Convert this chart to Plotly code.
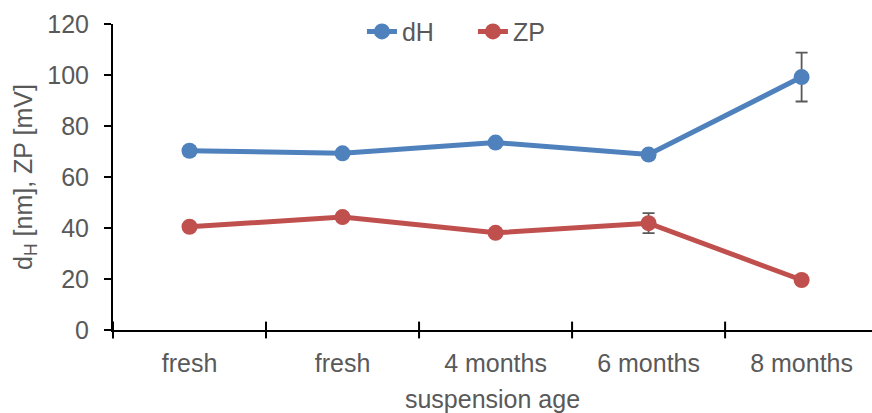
import plotly.graph_objects as go

categories = ["fresh", "fresh", "4 months", "6 months", "8 months"]
dH = [70.3, 69.3, 73.5, 68.8, 99.2]
dH_err = [1.8, 0.8, 1.0, 0.8, 9.6]
ZP = [40.5, 44.3, 38.1, 41.9, 19.6]
ZP_err = [0.8, 1.6, 0.6, 3.9, 0.6]
y_ticks = [0, 20, 40, 60, 80, 100, 120]

xpos = list(range(len(categories)))
grey = "#595959"

fig = go.Figure()
fig.add_trace(go.Scatter(
    x=xpos, y=dH, name="dH", mode="lines+markers",
    line=dict(color="#4F81BD", width=5),
    marker=dict(color="#4F81BD", size=16),
    error_y=dict(type="data", array=dH_err, color=grey, thickness=1.8, width=6),
))
fig.add_trace(go.Scatter(
    x=xpos, y=ZP, name="ZP", mode="lines+markers",
    line=dict(color="#C0504D", width=5),
    marker=dict(color="#C0504D", size=16),
    error_y=dict(type="data", array=ZP_err, color=grey, thickness=1.8, width=6),
))

font = dict(family="Liberation Sans, Arial, sans-serif", size=25, color=grey)
fig.update_layout(
    width=872, height=413,
    margin=dict(l=113, r=0, t=24, b=83),
    paper_bgcolor="white", plot_bgcolor="white",
    font=font,
    showlegend=True,
    legend=dict(orientation="h", x=0.328, xanchor="left", y=0.975, yanchor="middle",
                font=font, bgcolor="rgba(0,0,0,0)", itemwidth=30,
                entrywidth=66, entrywidthmode="pixels"),
    xaxis=dict(
        range=[-0.5, 4.46], tickmode="array", tickvals=xpos, ticktext=categories,
        showgrid=False, zeroline=False, showline=True, linecolor="black", linewidth=2,
        ticks="outside", ticklen=10, tickcolor="rgba(0,0,0,0)",
        title=dict(text="suspension age", font=font, standoff=16),
        tickfont=font,
    ),
    yaxis=dict(
        range=[0, 120], tickvals=y_ticks, showgrid=False, zeroline=False,
        showline=True, linecolor="black", linewidth=2,
        ticks="outside", ticklen=7, tickcolor="black", tickwidth=2,
        ticklabelstandoff=10,
        title=dict(text="d<sub>H</sub> [nm], ZP [mV]", font=font, standoff=8),
        tickfont=font,
    ),
)

# x-axis boundary tick marks between categories
fig.add_trace(go.Scatter(x=[-0.5, 0.5, 1.5, 2.5, 3.5], y=[0]*5, mode="markers",
                         marker=dict(symbol="line-ns", size=12, line=dict(color="black", width=2)),
                         showlegend=False, hoverinfo="skip", cliponaxis=False))

fig.write_html("out.html")
